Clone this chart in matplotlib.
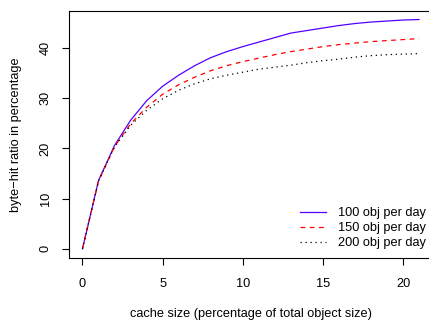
import matplotlib
matplotlib.use("Agg")
import matplotlib.pyplot as plt

plt.rcParams["font.family"] = ["Liberation Sans", "DejaVu Sans"]

# cache size (percentage of total object size)
cache_size = list(range(22))

# byte-hit ratio in percentage
hit_100 = [0, 13.6, 20.6, 25.6, 29.5, 32.4, 34.6, 36.5, 38.1, 39.3, 40.3,
           41.2, 42.1, 43.0, 43.5, 44.0, 44.5, 44.9, 45.2, 45.4, 45.6, 45.7]
hit_150 = [0, 13.5, 20.4, 24.9, 28.2, 30.8, 32.7, 34.2, 35.5, 36.5, 37.3,
           38.0, 38.7, 39.3, 39.8, 40.3, 40.7, 41.0, 41.3, 41.5, 41.7, 41.9]
hit_200 = [0, 13.5, 20.3, 24.6, 27.6, 29.9, 31.6, 32.9, 33.9, 34.6, 35.2,
           35.8, 36.2, 36.6, 37.1, 37.5, 37.8, 38.2, 38.5, 38.7, 38.8, 38.9]

labels = ["100 obj per day", "150 obj per day", "200 obj per day"]
xticks = [0, 5, 10, 15, 20]
yticks = [0, 10, 20, 30, 40]

FS = 9.2
W, H = 429, 322
fig = plt.figure(figsize=(W / 100, H / 100), dpi=100)
# box: left 69px, top 11px, bottom 258px, right just past the image edge
ax = fig.add_axes([69 / W, 1 - 258 / H, (432.5 - 69) / W, (258 - 11) / H])

ax.plot(cache_size, hit_100, color="#5500ff", lw=0.9, ls="-", label=labels[0])
ax.plot(cache_size, hit_150, color="#ff0000", lw=0.9, ls=(0, (3.8, 3.6)), label=labels[1])
ax.plot(cache_size, hit_200, color="black", lw=0.9, ls=(0, (1, 3)), label=labels[2])

ax.set_xlim(-0.84, 21.84)
ax.set_ylim(-1.83, 47.4)
ax.set_xticks(xticks)
ax.set_yticks(yticks)
ax.tick_params(direction="out", length=5, width=0.8, labelsize=FS, pad=7.5)
ax.tick_params(axis="x", pad=9.5)
for lab in ax.get_yticklabels():
    lab.set_rotation(90)
    lab.set_va("center")
for sp in ax.spines.values():
    sp.set_linewidth(0.8)

ax.set_xlabel("cache size (percentage of total object size)", fontsize=FS, labelpad=13)
ax.set_ylabel("byte\u2212hit ratio in percentage", fontsize=FS, labelpad=13)

ax.legend(loc="lower right", bbox_to_anchor=(1.006, 0.0), frameon=False,
          fontsize=FS, handlelength=2.0, handletextpad=0.95, labelspacing=0.22,
          borderpad=0.2)

fig.savefig("out.png", dpi=100)
